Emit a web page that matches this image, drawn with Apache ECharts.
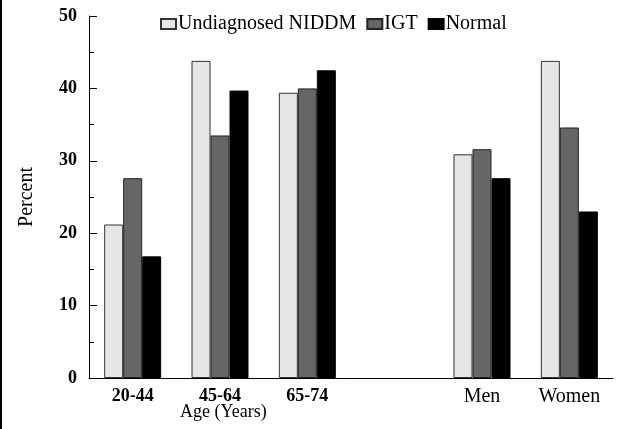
<!DOCTYPE html>
<html>
<head>
<meta charset="utf-8">
<script src="https://cdn.jsdelivr.net/npm/echarts@6/dist/echarts.min.js"></script>
<style>
html,body{margin:0;padding:0;background:#fff;}
#chart{width:618px;height:429px;}
</style>
</head>
<body>
<div id="chart"></div>
<script>
var categories = ['20-44', '45-64', '65-74', '', 'Men', 'Women'];
var undiagnosed = [21.2, 43.8, 39.4, null, 30.9, 43.8];
var igt = [27.6, 33.5, 40.0, null, 31.6, 34.6];
var normal = [16.8, 39.7, 42.5, null, 27.6, 23.0];
var yTicks = [0, 10, 20, 30, 40, 50];

var serif = '"Liberation Serif", "Times New Roman", serif';
var chart = echarts.init(document.getElementById('chart'), null, {renderer: 'canvas'});
function barSeries(name, data, color, border) {
  return {
    name: name, type: 'bar', data: data, barWidth: 19, barGap: '0%',
    itemStyle: {color: color, borderColor: border, borderWidth: 1},
    animation: false
  };
}
chart.setOption({
  animation: false,
  grid: {left: 89, right: 5, top: 16, bottom: 51},
  legend: {
    top: 14, left: 160, icon: 'rect', padding: 0,
    itemWidth: 15, itemHeight: 10, itemGap: 10,
    textStyle: {fontFamily: serif, fontSize: 20, color: '#000', padding: [0, 0, 0, -3]},
    data: ['Undiagnosed NIDDM', 'IGT', 'Normal']
  },
  xAxis: {
    type: 'category', data: categories,
    axisLine: {lineStyle: {color: '#000', width: 1}},
    axisTick: {show: false},
    axisLabel: {
      interval: 0, margin: 9,
      formatter: function (v) { return /\d/.test(v) ? '{b|' + v + '}' : '{n|' + v + '}'; },
      rich: {
        b: {fontFamily: serif, fontSize: 18, fontWeight: 'bold', color: '#000'},
        n: {fontFamily: serif, fontSize: 20, color: '#000'}
      }
    }
  },
  yAxis: {
    type: 'value', min: yTicks[0], max: yTicks[yTicks.length - 1], interval: 10,
    name: 'Percent', nameLocation: 'middle', nameGap: 52, nameRotate: 90,
    nameTextStyle: {fontFamily: serif, fontSize: 20, color: '#000'},
    axisLine: {show: true, lineStyle: {color: '#000', width: 1}},
    axisTick: {show: true, inside: true, length: 8, lineStyle: {color: '#000'}},
    minorTick: {show: true, splitNumber: 2, length: 5, lineStyle: {color: '#000'}},
    splitLine: {show: false},
    axisLabel: {fontFamily: serif, fontSize: 18, fontWeight: 'bold', color: '#000', margin: 12}
  },
  graphic: [
    {type: 'rect', left: 0, top: 0, shape: {width: 2, height: 429}, style: {fill: '#000'}},
    {type: 'text', left: 180, top: 403, style: {text: 'Age (Years)', font: '18px ' + serif, fill: '#000'}}
  ],
  series: [
    barSeries('Undiagnosed NIDDM', undiagnosed, '#e5e5e5', '#333'),
    barSeries('IGT', igt, '#666666', '#222'),
    barSeries('Normal', normal, '#000000', '#000')
  ]
});
</script>
</body>
</html>
